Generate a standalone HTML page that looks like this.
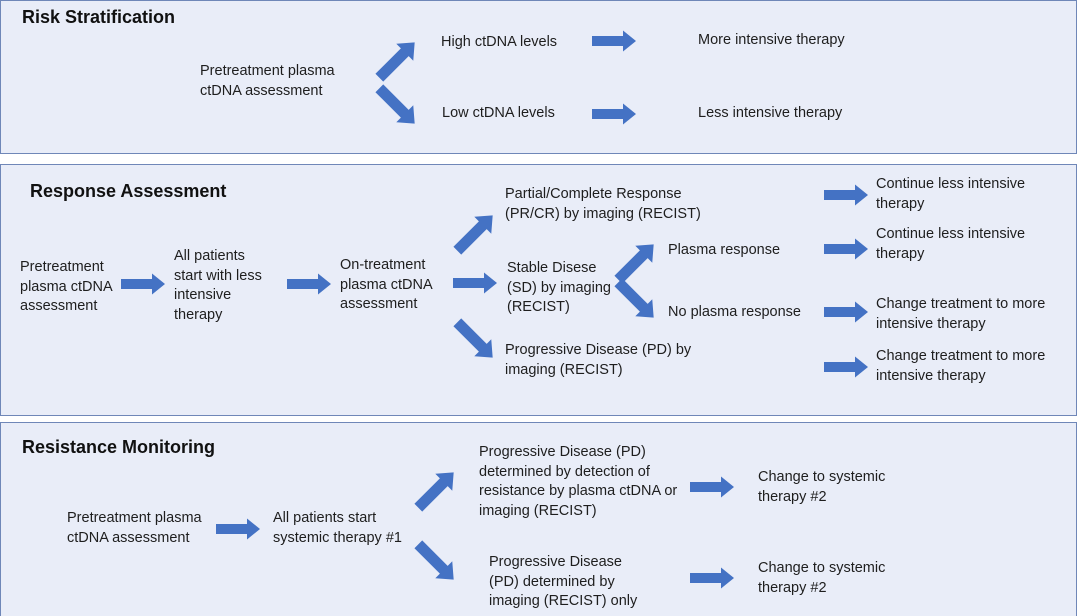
<!DOCTYPE html>
<html><head><meta charset="utf-8">
<style>
html,body{margin:0;padding:0;background:#fff;}
#c{position:relative;width:1080px;height:616px;overflow:hidden;font-family:"Liberation Sans",sans-serif;color:#1e1e1e;}
.p{position:absolute;left:0;width:1077px;background:#e9edf8;border:1.5px solid #6f87b8;box-sizing:border-box;}
.t{position:absolute;font-size:14.5px;line-height:19.7px;white-space:nowrap;}
.h{position:absolute;font-size:18px;font-weight:bold;white-space:nowrap;color:#111;}
svg{position:absolute;left:0;top:0;}
</style></head><body><div id="c">
<div class="p" style="top:0;height:154px"></div>
<div class="p" style="top:164px;height:252px"></div>
<div class="p" style="top:422px;height:196px"></div>

<svg width="1080" height="616">
<defs>
<path id="a" d="M-22,-5 L9,-5 L9,-10.5 L22,0 L9,10.5 L9,5 L-22,5 Z" fill="#4472c4"/>
<path id="d" d="M-25,-5.5 L11,-5.5 L11,-12 L25,0 L11,12 L11,5.5 L-25,5.5 Z" fill="#4472c4"/>
</defs>
<!-- panel1 -->
<use href="#d" transform="translate(397,60) rotate(-45)"/>
<use href="#d" transform="translate(397,106) rotate(45)"/>
<use href="#a" transform="translate(614,41)"/>
<use href="#a" transform="translate(614,114)"/>
<!-- panel2 -->
<use href="#a" transform="translate(143,284)"/>
<use href="#a" transform="translate(309,284)"/>
<use href="#d" transform="translate(475,233) rotate(-45)"/>
<use href="#a" transform="translate(475,283)"/>
<use href="#d" transform="translate(475,340) rotate(45)"/>
<use href="#d" transform="translate(636,262) rotate(-45)"/>
<use href="#d" transform="translate(636,300) rotate(45)"/>
<use href="#a" transform="translate(846,195)"/>
<use href="#a" transform="translate(846,249)"/>
<use href="#a" transform="translate(846,312)"/>
<use href="#a" transform="translate(846,367)"/>
<!-- panel3 -->
<use href="#a" transform="translate(238,529)"/>
<use href="#d" transform="translate(436,490) rotate(-45)"/>
<use href="#d" transform="translate(436,562) rotate(45)"/>
<use href="#a" transform="translate(712,487)"/>
<use href="#a" transform="translate(712,578)"/>
</svg>

<div class="h" style="left:22px;top:7px">Risk Stratification</div>
<div class="t" style="left:200px;top:62px">Pretreatment plasma<br>ctDNA assessment</div>
<div class="t" style="left:441px;top:33px">High ctDNA levels</div>
<div class="t" style="left:442px;top:104px">Low ctDNA levels</div>
<div class="t" style="left:698px;top:31px">More intensive therapy</div>
<div class="t" style="left:698px;top:104px">Less intensive therapy</div>

<div class="h" style="left:30px;top:181px">Response Assessment</div>
<div class="t" style="left:20px;top:258px">Pretreatment<br>plasma ctDNA<br>assessment</div>
<div class="t" style="left:174px;top:247px">All patients<br>start with less<br>intensive<br>therapy</div>
<div class="t" style="left:340px;top:256px">On-treatment<br>plasma ctDNA<br>assessment</div>
<div class="t" style="left:505px;top:185px">Partial/Complete Response<br>(PR/CR) by imaging (RECIST)</div>
<div class="t" style="left:507px;top:259px">Stable Disese<br>(SD) by imaging<br>(RECIST)</div>
<div class="t" style="left:505px;top:341px">Progressive Disease (PD) by<br>imaging (RECIST)</div>
<div class="t" style="left:668px;top:241px">Plasma response</div>
<div class="t" style="left:668px;top:303px">No plasma response</div>
<div class="t" style="left:876px;top:175px">Continue less intensive<br>therapy</div>
<div class="t" style="left:876px;top:225px">Continue less intensive<br>therapy</div>
<div class="t" style="left:876px;top:295px">Change treatment to more<br>intensive therapy</div>
<div class="t" style="left:876px;top:347px">Change treatment to more<br>intensive therapy</div>

<div class="h" style="left:22px;top:437px">Resistance Monitoring</div>
<div class="t" style="left:67px;top:509px">Pretreatment plasma<br>ctDNA assessment</div>
<div class="t" style="left:273px;top:509px">All patients start<br>systemic therapy #1</div>
<div class="t" style="left:479px;top:443px">Progressive Disease (PD)<br>determined by detection of<br>resistance by plasma ctDNA or<br>imaging (RECIST)</div>
<div class="t" style="left:489px;top:553px">Progressive Disease<br>(PD) determined by<br>imaging (RECIST) only</div>
<div class="t" style="left:758px;top:468px">Change to systemic<br>therapy #2</div>
<div class="t" style="left:758px;top:559px">Change to systemic<br>therapy #2</div>
</div></body></html>
